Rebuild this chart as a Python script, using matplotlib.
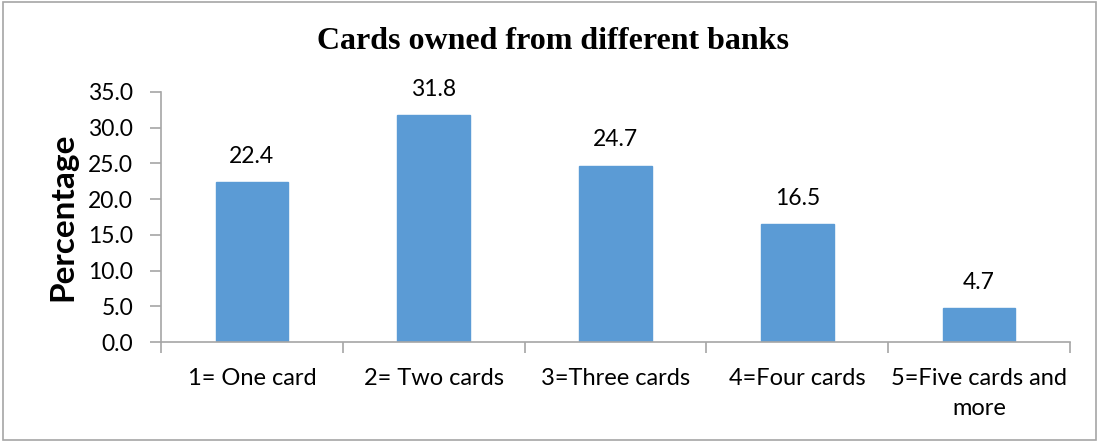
import matplotlib
matplotlib.use("Agg")
import matplotlib.pyplot as plt
import matplotlib.patches as patches
import numpy as np

categories = ["1= One card", "2= Two cards", "3=Three cards", "4=Four cards", "5=Five cards and\nmore"]
values = [22.4, 31.8, 24.7, 16.5, 4.7]
yticks = [0.0, 5.0, 10.0, 15.0, 20.0, 25.0, 30.0, 35.0]

plt.rcParams['font.family'] = ['Lato', 'DejaVu Sans']

fig = plt.figure(figsize=(10.99, 4.42), dpi=100)
ax = fig.add_axes([0.1465, 0.2262, 0.8271, 0.5657])

x = np.arange(len(categories))
ax.bar(x, values, width=0.4, color="#5B9BD5", edgecolor="#5B9BD5", zorder=2)

for xi, v in zip(x, values):
    ax.annotate(f"{v:.1f}", (xi, v), xytext=(0, 11), textcoords="offset points",
                ha="center", va="bottom", fontsize=16.5, color="black")

ax.set_xlim(-0.5, len(categories) - 0.5)
ax.set_ylim(0, 35)
ax.set_yticks(yticks)
ax.set_yticklabels([f"{t:.1f}" for t in yticks], fontsize=16.5)

# category boundary ticks like Excel
ax.set_xticks(np.arange(-0.5, len(categories), 1.0))
ax.set_xticklabels([])
ax.set_xticks(x, minor=True)
ax.set_xticklabels(categories, minor=True, fontsize=17, linespacing=1.5, va="top")
ax.tick_params(axis="x", which="minor", length=0, pad=19)
ax.tick_params(axis="x", which="major", length=8, color="#A6A6A6", width=1.2)
ax.tick_params(axis="y", length=8, color="#A6A6A6", width=1.2, pad=12)

for side in ["top", "right"]:
    ax.spines[side].set_visible(False)
for side in ["left", "bottom"]:
    ax.spines[side].set_color("#A6A6A6")
    ax.spines[side].set_linewidth(1.2)

ax.set_ylabel("Percentage", fontsize=24, fontweight="bold", labelpad=8)
fig.text(0.503, 0.905, "Cards owned from different banks", ha="center", va="center",
         fontsize=23, fontweight="bold", family="Liberation Serif")

# outer chart border
border = patches.Rectangle((0.003, 0.004), 0.994, 0.992, transform=fig.transFigure,
                           fill=False, edgecolor="#A6A6A6", linewidth=1.2)
fig.patches.append(border)

fig.savefig("out.png", dpi=100)
